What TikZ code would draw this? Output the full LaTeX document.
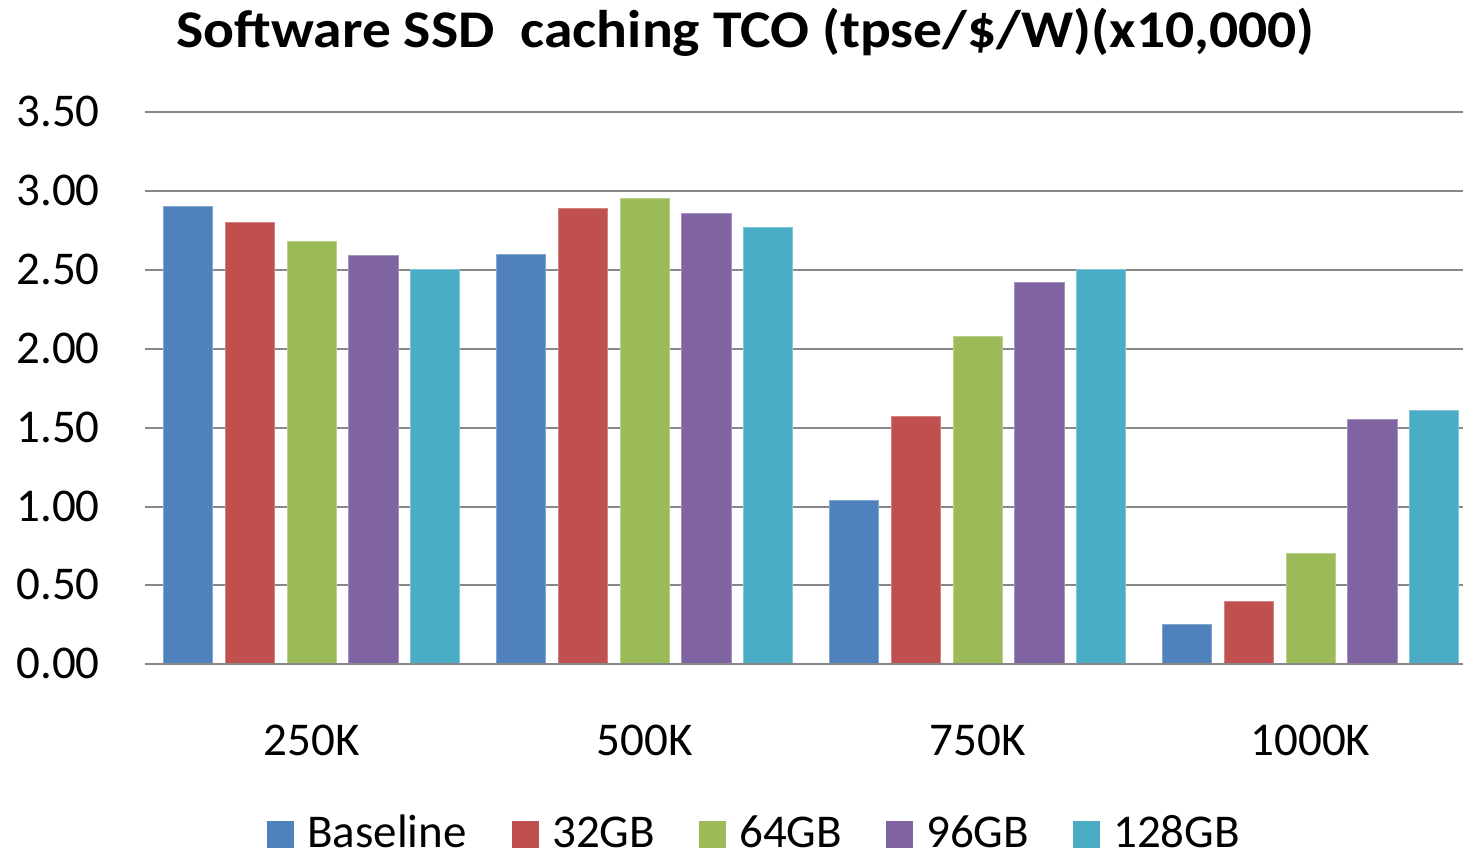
\documentclass[tikz,border=0pt]{standalone}
\usepackage{fontspec}
\setmainfont{Carlito}
\definecolor{cBase}{HTML}{4F81BD}
\definecolor{c32}{HTML}{C0504D}
\definecolor{c64}{HTML}{9BBB59}
\definecolor{c96}{HTML}{8064A2}
\definecolor{c128}{HTML}{4BACC6}
\definecolor{gridc}{HTML}{888888}
\tikzset{
  gridline/.style={draw=gridc, line width=2pt},
  ticklabel/.style={anchor=base east, inner sep=0pt, font=\fontsize{47}{50}\selectfont},
  catlabel/.style={anchor=base, inner sep=0pt, font=\fontsize{47}{50}\selectfont},
  legtext/.style={anchor=base west, inner sep=0pt, font=\fontsize{47}{50}\selectfont},
  legbox/.style={minimum width=27pt, minimum height=27pt, inner sep=0pt, anchor=south west},
  bar/.style={line width=0.8pt},
}
\begin{document}
\begin{tikzpicture}[x=1pt,y=-1pt]
\useasboundingbox (0,0) rectangle (1463,854);
% title
\node[anchor=base, inner sep=0pt, font=\bfseries\fontsize{53}{56}\selectfont] (title) at (745.6,47) {\scalebox{1.086}[1]{Software SSD\ \ caching TCO (tpse/\$/W)(x10,000)}};
% gridlines and tick labels
\foreach \v/\lab [count=\k] in {0.5/0.50,1/1.00,1.5/1.50,2/2.00,2.5/2.50,3/3.00,3.5/3.50}{
  \draw[gridline] (145,{664.3-157.8*\v}) -- (1463,{664.3-157.8*\v});
}
\foreach \v/\lab [count=\k] in {0/0.00,0.5/0.50,1/1.00,1.5/1.50,2/2.00,2.5/2.50,3/3.00,3.5/3.50}{
  \node[ticklabel] (yl\k) at (100,{664.3-157.8*\v+14.5}) {\lab};
}
% bars
\foreach \g/\vals in {0/{2.90,2.80,2.68,2.59,2.50},1/{2.60,2.89,2.95,2.86,2.77},2/{1.04,1.57,2.08,2.42,2.50},3/{0.25,0.40,0.70,1.55,1.61}}{
  \foreach \v [count=\i from 0] in \vals {
    \pgfmathsetmacro{\cx}{311.5+333*\g+61.8*(\i-2)}
    \ifcase\i \def\bc{cBase}\or \def\bc{c32}\or \def\bc{c64}\or \def\bc{c96}\or \def\bc{c128}\fi
    \filldraw[bar, fill=\bc, draw=\bc!70!white] ({\cx-24.6},664.3) rectangle ({\cx+24.6},{664.3-157.8*\v});
  }
}
\draw[gridline] (145,664.3) -- (1463,664.3);
% category labels
\node[catlabel] (c1) at (311.5,755) {250K};
\node[catlabel] (c2) at (644.5,755) {500K};
\node[catlabel] (c3) at (977.5,755) {750K};
\node[catlabel] (c4) at (1310.5,755) {1000K};
% legend
\node[legbox, fill=cBase] (l1) at (267,848) {};
\node[legtext] (t1) at (307,847) {Baseline};
\node[legbox, fill=c32] (l2) at (512,848) {};
\node[legtext] (t2) at (552,847) {32GB};
\node[legbox, fill=c64] (l3) at (699,848) {};
\node[legtext] (t3) at (739,847) {64GB};
\node[legbox, fill=c96] (l4) at (886,848) {};
\node[legtext] (t4) at (926,847) {96GB};
\node[legbox, fill=c128] (l5) at (1073,848) {};
\node[legtext] (t5) at (1113,847) {128GB};
\end{tikzpicture}
\end{document}
